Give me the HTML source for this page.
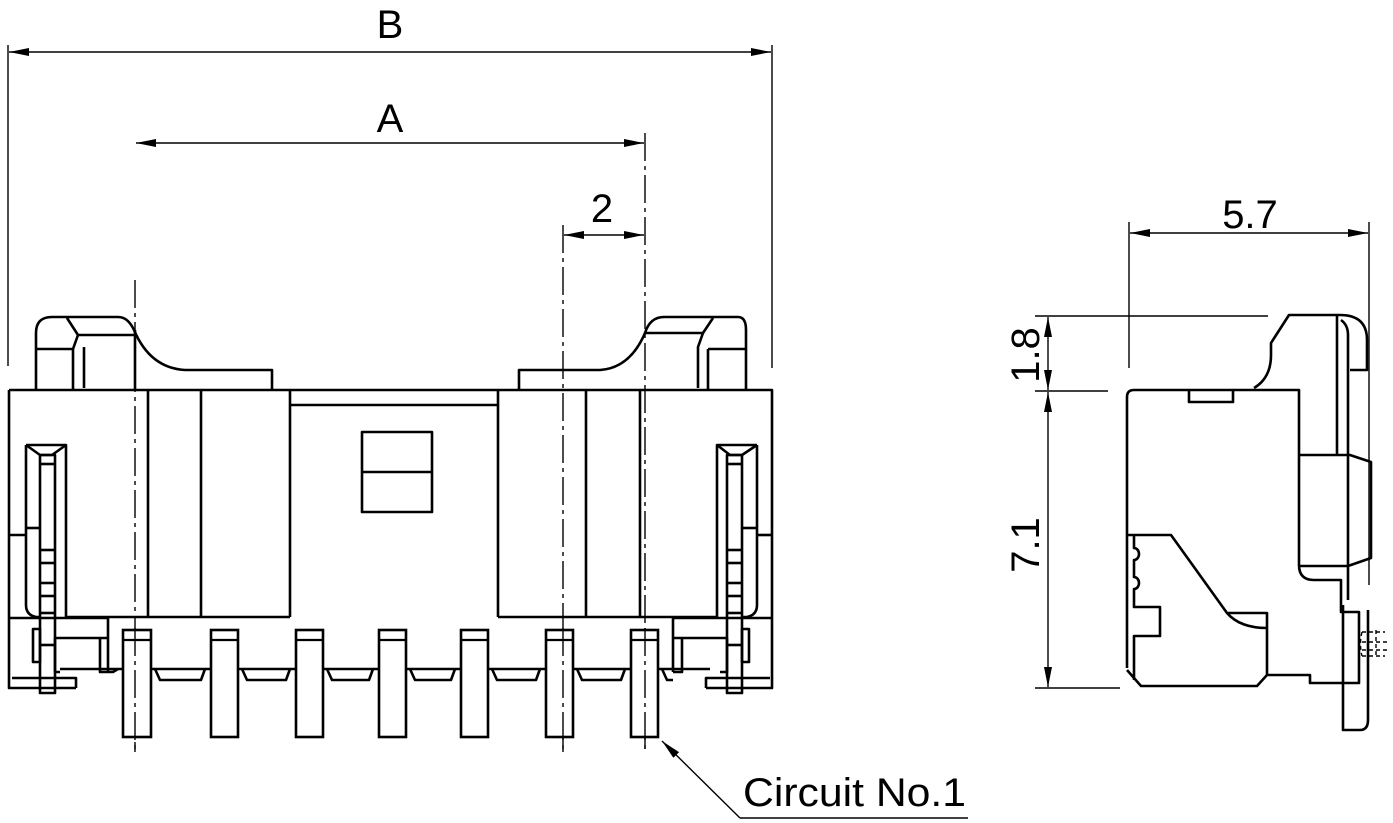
<!DOCTYPE html>
<html><head><meta charset="utf-8"><style>
html,body{margin:0;padding:0;background:#fff;}
svg{display:block}
text{font-family:"Liberation Sans",sans-serif;fill:#000}
</style></head><body>
<svg width="1393" height="823" viewBox="0 0 1393 823" xmlns="http://www.w3.org/2000/svg">
<defs>
<marker id="ar" viewBox="0 0 20 8" refX="20" refY="4" markerWidth="20" markerHeight="8" markerUnits="userSpaceOnUse" orient="auto-start-reverse">
<path d="M0,0 L20,4 L0,8 Z" fill="#000"/>
</marker>
</defs>
<g stroke="#000" stroke-width="1.4" fill="none">
<line x1="8" y1="45" x2="8" y2="366"/>
<line x1="772" y1="45" x2="772" y2="368"/>
<line x1="9" y1="52" x2="771" y2="52" marker-start="url(#ar)" marker-end="url(#ar)"/>
<line x1="136" y1="143" x2="644" y2="143" marker-start="url(#ar)" marker-end="url(#ar)"/>
<line x1="564" y1="235" x2="644" y2="235" marker-start="url(#ar)" marker-end="url(#ar)"/>
<line x1="135" y1="280" x2="135" y2="752" stroke-dasharray="28,5,4,5"/>
<line x1="563" y1="225" x2="563" y2="752" stroke-dasharray="28,5,4,5"/>
<line x1="645" y1="133" x2="645" y2="752" stroke-dasharray="28,5,4,5"/>
<line x1="740" y1="818" x2="968" y2="818"/>
<line x1="740" y1="818" x2="662" y2="741" marker-end="url(#ar)"/>
<line x1="1129" y1="222" x2="1129" y2="368"/>
<line x1="1369" y1="222" x2="1369" y2="585"/>
<line x1="1130" y1="233" x2="1368" y2="233" marker-start="url(#ar)" marker-end="url(#ar)"/>
<line x1="1035" y1="316" x2="1268" y2="316"/>
<line x1="1035" y1="391" x2="1108" y2="391"/>
<line x1="1035" y1="688" x2="1120" y2="688"/>
<line x1="1048" y1="317" x2="1048" y2="390" marker-start="url(#ar)" marker-end="url(#ar)"/>
<line x1="1048" y1="392" x2="1048" y2="687" marker-start="url(#ar)" marker-end="url(#ar)"/>
</g>
<text x="390" y="38" font-size="40" text-anchor="middle">B</text>
<text x="390" y="132" font-size="40" text-anchor="middle">A</text>
<text x="602" y="222" font-size="40" text-anchor="middle">2</text>
<text x="1250" y="228" font-size="40" text-anchor="middle">5.7</text>
<text transform="translate(1039,355) rotate(-90)" font-size="40" text-anchor="middle">1.8</text>
<text transform="translate(1039,545) rotate(-90)" font-size="40" text-anchor="middle">7.1</text>
<text x="743" y="806" font-size="40" textLength="223" lengthAdjust="spacingAndGlyphs">Circuit No.1</text>

<g stroke="#000" stroke-width="2.6" fill="none" stroke-linejoin="round">
<path d="M36,390 V333 Q36,317 52,317 H118 Q128,317 134,330 Q150,368 185,370 H272 V390"/>
<path d="M67,318 L78,335 H134"/>
<path d="M78,335 L73,349 H36"/>
<path d="M73,349 V390"/>
<path d="M84,347 V388"/>
<line x1="135" y1="330" x2="135" y2="390"/>
<path d="M519,390 V370 H600 Q630,368 645,333 Q650,317 664,317 H738 Q746,317 746,330 V390"/>
<path d="M713,318 L703,333 H645"/>
<path d="M703,333 L698,347 V388"/>
<path d="M708,349 V390 M708,349 H746"/>
<path d="M9,390 H772 V688 H706"/>
<path d="M9,390 V688 H76"/>
<line x1="148" y1="390" x2="148" y2="617"/>
<line x1="201" y1="390" x2="201" y2="617"/>
<line x1="290" y1="390" x2="290" y2="617"/>
<line x1="290" y1="405" x2="498" y2="405"/>
<line x1="498" y1="390" x2="498" y2="617"/>
<line x1="586" y1="390" x2="586" y2="617"/>
<line x1="640" y1="390" x2="640" y2="617"/>
<line x1="66" y1="617" x2="290" y2="617"/>
<line x1="498" y1="617" x2="717" y2="617"/>
<rect x="362" y="432" width="70" height="80"/>
<line x1="362" y1="472" x2="432" y2="472"/>
<path d="M26,445 H66 V617 M26,445 V605 Q26,615 36,617 H40"/>
<path d="M26,445 L40,455 H52 L66,445"/>
<rect x="40" y="455" width="15" height="238"/>
<line x1="40" y1="464" x2="55" y2="464"/>
<line x1="40" y1="550" x2="55" y2="550"/>
<line x1="40" y1="563" x2="55" y2="563"/>
<line x1="40" y1="583" x2="55" y2="583"/>
<line x1="40" y1="596" x2="55" y2="596"/>
<line x1="40" y1="613" x2="55" y2="613"/>
<line x1="40" y1="645" x2="55" y2="645"/>
<line x1="9" y1="535" x2="26" y2="535"/>
<line x1="26" y1="528" x2="40" y2="528"/>
<path d="M9,618 H108 V672"/>
<path d="M55,638 H108"/>
<path d="M100,638 V672 H108"/>
<rect x="33" y="629" width="7" height="33"/>
<path d="M55,638 V672 H60"/>
<path d="M12,678 H76 V688"/>
<path d="M757,445 H717 V617 M757,445 V605 Q757,615 747,617 H742"/>
<path d="M757,445 L742,455 H730 L717,445"/>
<rect x="727" y="455" width="15" height="238"/>
<line x1="727" y1="464" x2="742" y2="464"/>
<line x1="727" y1="550" x2="742" y2="550"/>
<line x1="727" y1="563" x2="742" y2="563"/>
<line x1="727" y1="583" x2="742" y2="583"/>
<line x1="727" y1="596" x2="742" y2="596"/>
<line x1="727" y1="613" x2="742" y2="613"/>
<line x1="727" y1="645" x2="742" y2="645"/>
<line x1="757" y1="535" x2="772" y2="535"/>
<line x1="742" y1="528" x2="757" y2="528"/>
<path d="M772,618 H673 V672"/>
<path d="M727,638 H673"/>
<path d="M682,638 V672 H673"/>
<rect x="742" y="629" width="7" height="33"/>
<path d="M727,638 V672 H720"/>
<path d="M770,678 H706 V688"/>
<path d="M60,669 H710"/>
<path d="M108,672 H113 L118,669"/>
<path d="M155,669 L160,680 H201 L205,669"/>
<path d="M242,669 L247,680 H286 L290,669"/>
<path d="M327,669 L332,680 H369 L373,669"/>
<path d="M410,669 L415,680 H451 L455,669"/>
<path d="M492,669 L497,680 H536 L540,669"/>
<path d="M577,669 L582,680 H621 L625,669"/>
<path d="M662,669 L667,680 H673"/>
</g>
<g stroke="#000" stroke-width="2.6" fill="#fff">
<rect x="123" y="630" width="28" height="107"/>
<rect x="211" y="630" width="27" height="107"/>
<rect x="296" y="630" width="27" height="107"/>
<rect x="379" y="630" width="27" height="107"/>
<rect x="461" y="630" width="27" height="107"/>
<rect x="546" y="630" width="27" height="107"/>
<rect x="631" y="630" width="27" height="107"/>
</g>
<g stroke="#000" stroke-width="2.2">
<line x1="123" y1="640" x2="151" y2="640"/>
<line x1="211" y1="640" x2="238" y2="640"/>
<line x1="296" y1="640" x2="323" y2="640"/>
<line x1="379" y1="640" x2="406" y2="640"/>
<line x1="461" y1="640" x2="488" y2="640"/>
<line x1="546" y1="640" x2="573" y2="640"/>
<line x1="631" y1="640" x2="658" y2="640"/>
</g>
<g stroke="#000" stroke-width="1.4" fill="none">
<line x1="135" y1="628" x2="135" y2="752" stroke-dasharray="28,5,4,5"/>
<line x1="563" y1="628" x2="563" y2="752" stroke-dasharray="28,5,4,5"/>
<line x1="645" y1="628" x2="645" y2="752" stroke-dasharray="28,5,4,5"/>
</g>

<g stroke="#000" stroke-width="2.6" fill="none" stroke-linejoin="round">
<path d="M1127,668 V397 Q1127,390 1134,390 H1299 V565 Q1299,580 1314,580 H1341 V612 H1359 V683 H1310 V675 H1267 L1257,686 H1141 L1127,670"/>
<path d="M1189,390 V402 H1233 V390"/>
<path d="M1127,535 H1171 L1227,613 Q1240,628 1267,628"/>
<path d="M1227,613 H1267 V676"/>
<path d="M1134,535 V548 A5,6 0 0 1 1134,560 V577 A5,6 0 0 1 1134,589 V607 H1160 V636 H1134 V680"/>
<path d="M1254,388 Q1271,378 1271,355 V343 L1289,315 H1340 Q1367,315 1367,340 V370 H1350"/>
<path d="M1337,316 V455"/>
<path d="M1341,320 Q1348,325 1348,335 V600"/>
<path d="M1299,455 H1350 L1371,462 V558 L1348,566 H1299"/>
<path d="M1343,605 V730 H1360 Q1368,730 1368,720 V610"/>
</g>
<g stroke="#000" stroke-width="1.4" fill="none" stroke-dasharray="4,3">
<path d="M1362,632 H1385 M1362,642 H1388 M1362,650 H1388 M1362,656 H1385"/>
<path d="M1362,632 Q1359,644 1362,656"/>
<line x1="1376" y1="630" x2="1376" y2="658"/>
</g>
</svg>
</body></html>
